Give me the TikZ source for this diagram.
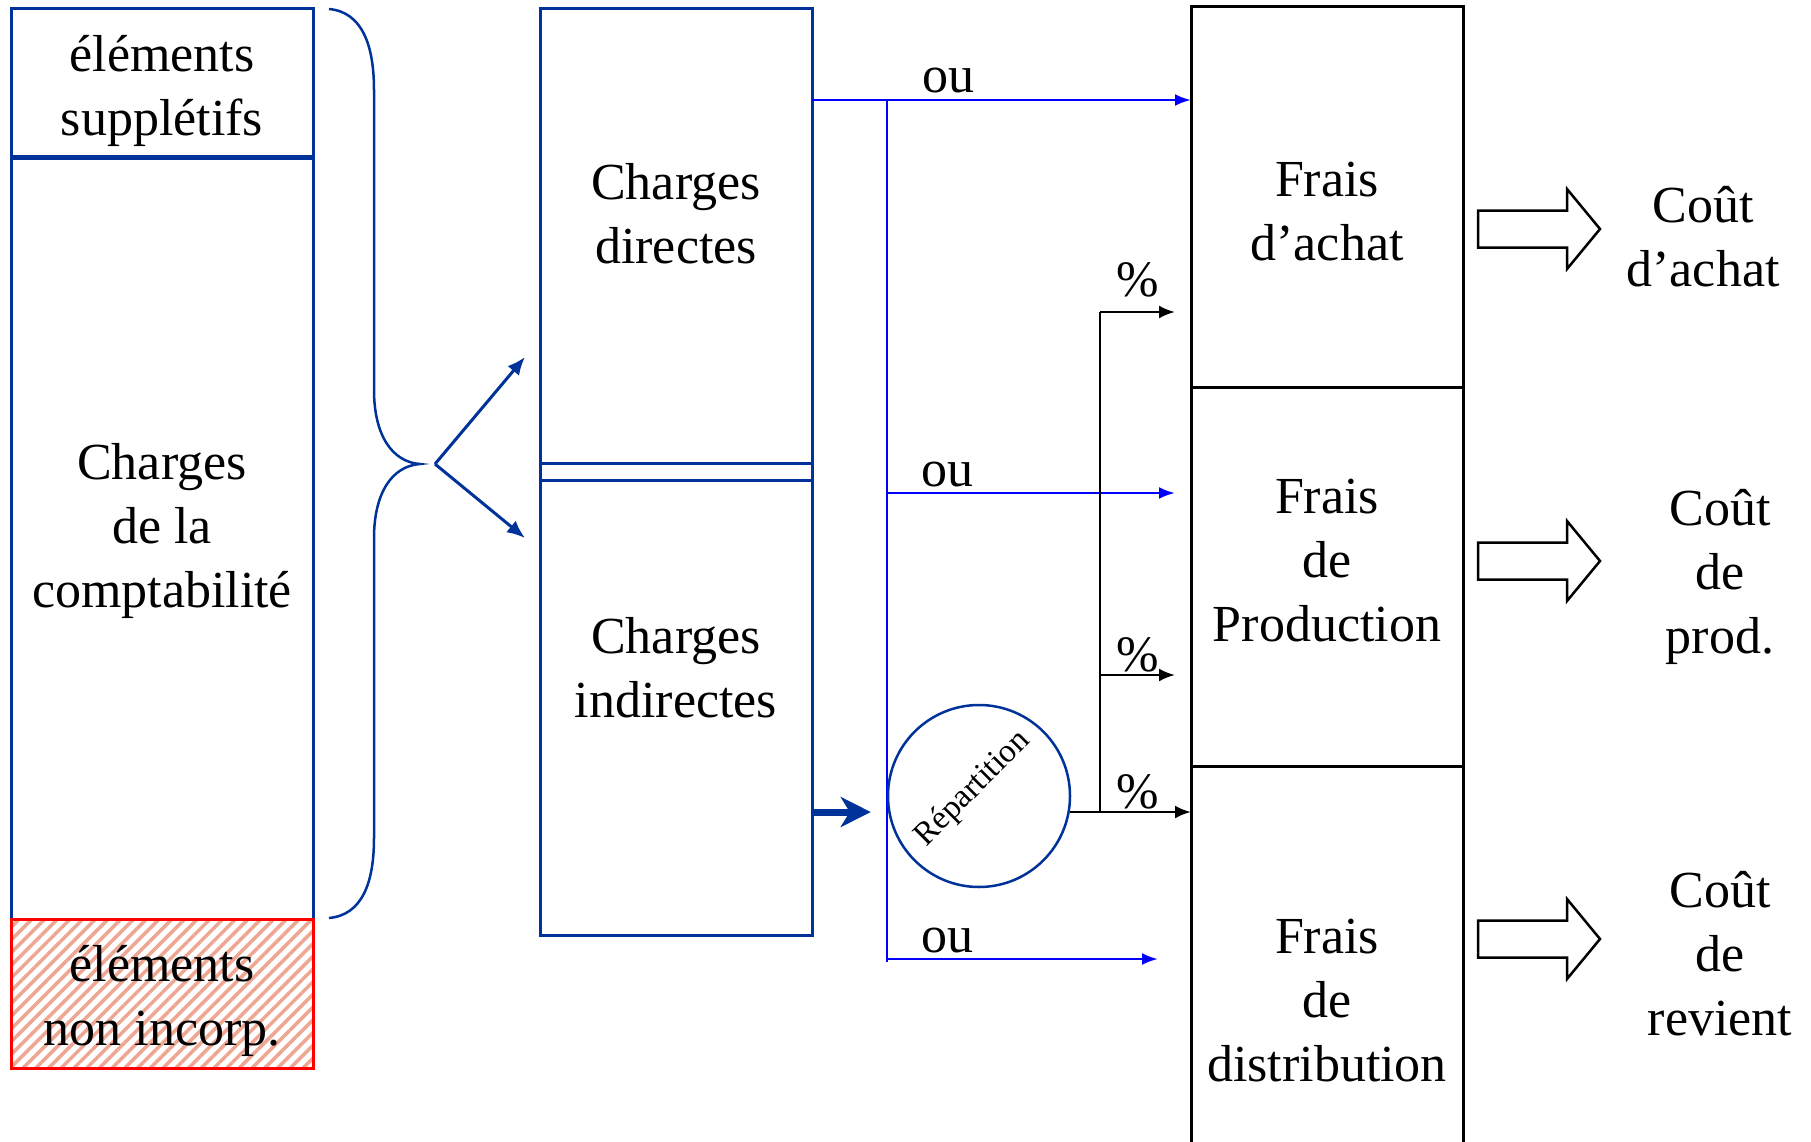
\documentclass[tikz,border=0pt]{standalone}
\usepackage{fontspec}
\setmainfont{Liberation Serif}
\usetikzlibrary{arrows.meta, patterns.meta, positioning}
\definecolor{navy}{RGB}{0,51,153}
\definecolor{oublue}{RGB}{0,0,255}
\definecolor{hatch}{RGB}{238,165,145}

\begin{document}
\begin{tikzpicture}[x=1pt, y=-1pt,
    box/.style={draw=navy, line width=3pt, inner sep=0pt, outer sep=0pt, minimum width=302pt},
    midbox/.style={draw=navy, line width=3pt, inner sep=0pt, outer sep=0pt, minimum width=272pt},
    frais/.style={draw=black, line width=3pt, inner sep=0pt, outer sep=0pt, minimum width=272pt},
    txt/.style={align=center, font=\fontsize{52}{64}\selectfont},
    ou/.style={text=black, font=\fontsize{52}{64}\selectfont, anchor=base, yshift=7pt},
    pct/.style={text=black, font=\fontsize{51}{56}\selectfont, anchor=base, yshift=4pt},
    ouline/.style={oublue, line width=2.5pt, -{Latex[length=16pt,width=12pt]}},
    pctline/.style={black, line width=2.5pt, -{Latex[length=16pt,width=13pt]}},
    bluearrow/.style={navy, line width=3pt, -{Latex[length=18pt,width=15pt]}},
  ]
  \clip (0,0) rectangle (1811,1142);
  \fill[white] (0,0) rectangle (1811,1142);

  % left column
  \node[box, minimum height=149pt] (supp) at (162,83.5) {};
  \node[box, minimum height=761pt, below=0pt of supp] (compta) {};
  \node[box, draw=red, minimum height=149pt, below=0pt of compta,
        pattern={Lines[angle=45,distance=9pt,line width=3.5pt]}, pattern color=hatch] (nonincorp) {};
  \draw[navy, line width=5pt] (supp.south west) -- (supp.south east);
  \node[txt] (t-supp) at (162,91) {éléments\\supplétifs};
  \node[txt] (t-compta) at (162,531) {Charges\\de la\\comptabilité};
  \node[txt] (t-nonincorp) at (162,1001) {éléments\\non incorp.};

  % brace
  \draw[navy, line width=2.5pt] (329,9) .. controls (362,12) and (374,45) .. (374,90)
    -- (374,390) .. controls (374,435) and (392,462) .. (420,464)
    .. controls (392,466) and (374,493) .. (374,538)
    -- (374,838) .. controls (374,883) and (362,915) .. (329,918);
  \coordinate (split) at (435,464);
  \coordinate (to-dir) at (525,357);
  \coordinate (to-indir) at (525,538);
  \draw[bluearrow] (split) -- (to-dir);
  \draw[bluearrow] (split) -- (to-indir);

  % charges
  \node[midbox, minimum height=454pt] (dir) at (676,236) {};
  \node[midbox, minimum height=455pt, below=17pt of dir] (indir) {};
  \draw[navy, line width=3pt] (dir.south west) -- (indir.north west);
  \draw[navy, line width=3pt] (dir.south east) -- (indir.north east);
  \node[txt] (t-dir) at (676,214) {Charges\\directes};
  \node[txt] (t-indir) at (676,668) {Charges\\indirectes};

  % frais
  \node[frais, minimum height=380pt] (achat) at (1327,197) {};
  \node[frais, minimum height=379pt, below=0pt of achat] (prod) {};
  \node[frais, minimum height=400pt, below=0pt of prod] (distr) {};
  \node[txt] (t-achat) at (1327,212) {Frais\\d’achat};
  \node[txt] (t-prod) at (1327,561) {Frais\\de\\Production};
  \node[txt] (t-distr) at (1327,1001) {Frais\\de\\distribution};

  % ou
  \coordinate (bus-top) at (887,100);
  \coordinate (bus-mid) at (887,493);
  \coordinate (bus-bot) at (887,959);
  \coordinate (end-mid) at (1175,493);
  \coordinate (end-bot) at (1158,959);
  \draw[oublue, line width=2.5pt] (bus-top) -- (887,962);
  \draw[ouline] (dir.east |- bus-top) -- node[ou, pos=0.36] {ou} (achat.west |- bus-top);
  \draw[ouline] (bus-mid) -- node[ou, pos=0.21] {ou} (end-mid);
  \draw[ouline] (bus-bot) -- node[ou, pos=0.225] {ou} (end-bot);

  % repartition
  \node[circle, draw=navy, line width=2.5pt, minimum size=182pt, inner sep=0pt] (circ) at (979,796) {};
  \node[font=\fontsize{33}{36}\selectfont, rotate=45] (t-circ) at (973,789) {Répartition};
  \draw[navy, line width=7pt, -{Stealth[length=30pt,width=30pt,inset=9pt]}, shorten >=16pt]
    (indir.east |- circ.-10) -- (circ.west |- circ.-10);
  \draw[pctline] (circ.-10) -- node[pct, pos=0.56] {\%} (circ.-10 -| distr.west);
  \coordinate (fork) at (1100,811);
  \coordinate (fork-top) at (1100,312);
  \coordinate (fork-mid) at (1100,675);
  \coordinate (pct-top) at (1175,312);
  \coordinate (pct-mid) at (1175,675);
  \draw[black, line width=2.5pt] (fork) -- (fork-top);
  \draw[pctline] (fork-top) -- node[pct, yshift=12pt] {\%} (pct-top);
  \draw[pctline] (fork-mid) -- node[pct] {\%} (pct-mid);

  % couts
  \foreach \y in {229,561,939}
    \draw[line width=2.5pt, line join=miter] (1478,\y-18.5) -- (1567,\y-18.5) -- (1567,\y-40)
      -- (1600,\y) -- (1567,\y+40) -- (1567,\y+18.5) -- (1478,\y+18.5) -- cycle;
  \node[txt] (cout-achat) at (1703,237) {Coût\\d’achat};
  \node[txt] (cout-prod) at (1720,577) {Coût\\de\\prod.};
  \node[txt] (cout-revient) at (1720,954) {Coût\\de\\revient};
\end{tikzpicture}
\end{document}
